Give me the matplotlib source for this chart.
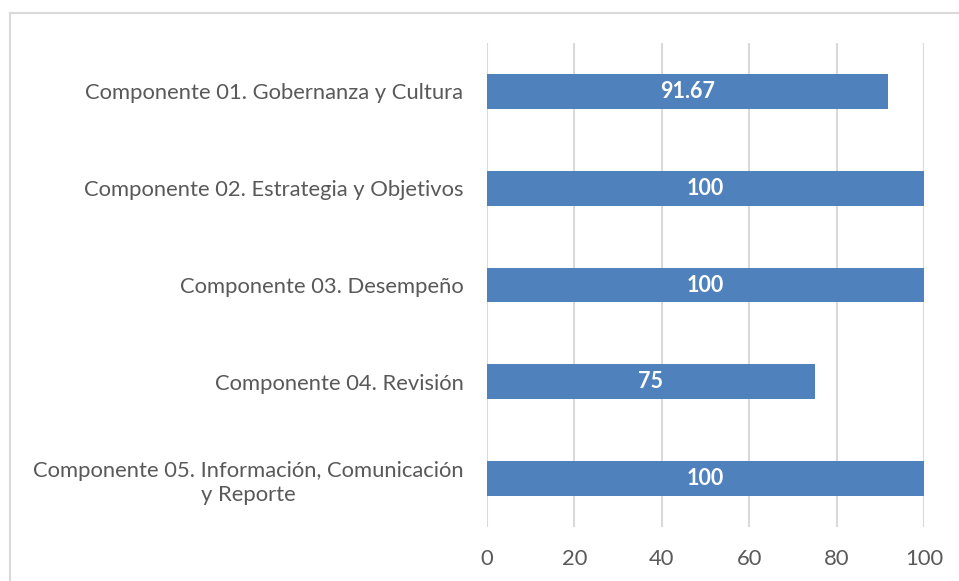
import matplotlib
matplotlib.use("Agg")
import matplotlib.pyplot as plt
from matplotlib.lines import Line2D

categories = [
    "Componente 01. Gobernanza y Cultura",
    "Componente 02. Estrategia y Objetivos",
    "Componente 03. Desempeño",
    "Componente 04. Revisión",
    "Componente 05. Información, Comunicación\ny Reporte",
]
values = [91.67, 100, 100, 75, 100]
value_labels = ["91.67", "100", "100", "75", "100"]
xticks = [0, 20, 40, 60, 80, 100]

plt.rcParams['font.family'] = ['Lato', 'DejaVu Sans']

fig = plt.figure(figsize=(9.59, 5.81), dpi=100)
ax = fig.add_axes([487/959, 1-527/581, (924-487)/959, (527-43)/581])

pos = list(range(len(categories)))
ax.barh(pos, values, height=0.36, color="#4F81BD", zorder=3)
for p, v, lab in zip(pos, values, value_labels):
    ax.text(v/2, p, lab, ha="center", va="center", color="white",
            fontsize=15.5, fontweight="bold", zorder=4)

ax.set_xlim(0, 100)
ax.set_ylim(4.5, -0.5)
ax.set_xticks(xticks)
ax.set_xticklabels([str(t) for t in xticks])
ax.set_yticks(pos)
ax.set_yticklabels(categories, multialignment="center", linespacing=1.25)
ax.tick_params(axis="both", length=0, colors="#595959", labelsize=15.8)
ax.tick_params(axis="y", pad=17)
ax.tick_params(axis="x", pad=16)
for s in ax.spines.values():
    s.set_visible(False)
ax.grid(axis="x", color="#D9D9D9", linewidth=1.5, zorder=0)
ax.set_axisbelow(True)

# outer border (top and left visible)
fig.add_artist(Line2D([10/959, 1], [1-13/581, 1-13/581], transform=fig.transFigure,
                      color="#D9D9D9", linewidth=1.5))
fig.add_artist(Line2D([10/959, 10/959], [0, 1-13/581], transform=fig.transFigure,
                      color="#D9D9D9", linewidth=1.5))

fig.savefig("out.png", dpi=100)
